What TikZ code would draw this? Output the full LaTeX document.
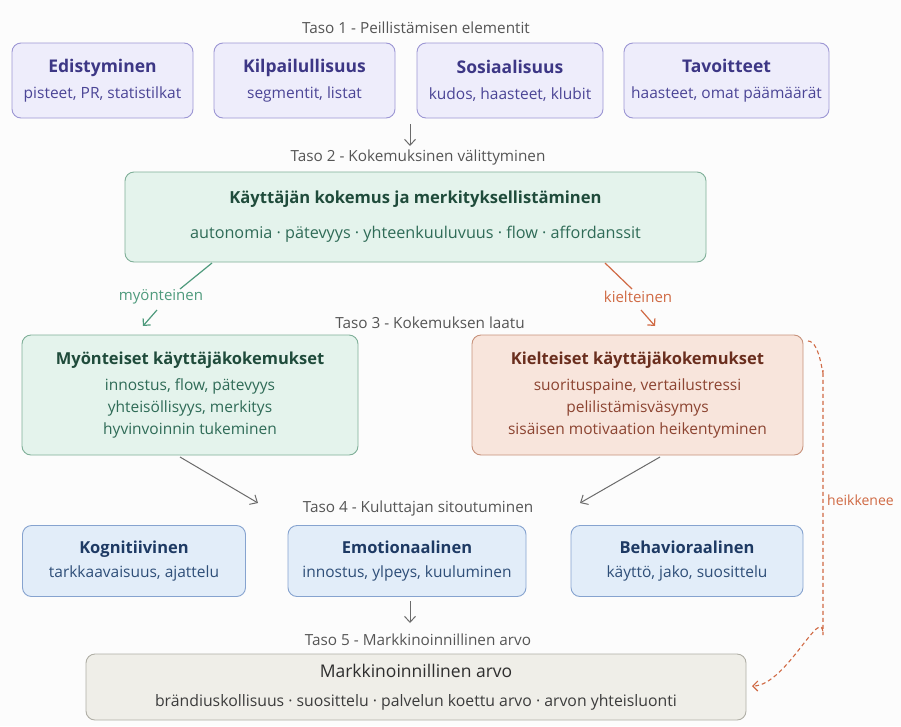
\documentclass[tikz,border=0pt]{standalone}
\usepackage{fontspec}
\setmainfont{Open Sans}
\usetikzlibrary{arrows.meta,calc}
\definecolor{bgc}{HTML}{FCFCFC}
\definecolor{pfill}{HTML}{EEEDFB}
\definecolor{pborder}{HTML}{9C96D4}
\definecolor{ptitle}{HTML}{3D3785}
\definecolor{psub}{HTML}{4B4596}
\definecolor{gfill}{HTML}{E4F3EC}
\definecolor{gborder}{HTML}{7FAF98}
\definecolor{gtitle}{HTML}{1F4B3B}
\definecolor{gsub}{HTML}{2F6B57}
\definecolor{rfill}{HTML}{F8E5DC}
\definecolor{rborder}{HTML}{C7917B}
\definecolor{rtitle}{HTML}{6A2E1E}
\definecolor{rsub}{HTML}{8C4431}
\definecolor{bfill}{HTML}{E2EDF9}
\definecolor{bborder}{HTML}{86A3CF}
\definecolor{btitle}{HTML}{1E3A64}
\definecolor{bsub}{HTML}{2E4E78}
\definecolor{efill}{HTML}{EFEEE8}
\definecolor{eborder}{HTML}{AFAEA5}
\definecolor{etitle}{HTML}{2E2E2E}
\definecolor{esub}{HTML}{3C3C3C}
\definecolor{lvl}{HTML}{555555}
\definecolor{arr}{HTML}{6B6B6B}
\definecolor{glink}{HTML}{4E9A7C}
\definecolor{olink}{HTML}{D06A44}
\newcommand\boxtitle[2][17.5]{{\fontsize{#1}{20}\selectfont\bfseries #2}}
\tikzset{
  box/.style={draw, rounded corners=9pt, line width=0.9pt, align=center, inner sep=0pt,
    font=\fontsize{15.5}{22}\selectfont},
  pbox/.style={box, draw=pborder, fill=pfill, text=psub, minimum height=75},
  gbox/.style={box, draw=gborder, fill=gfill, text=gsub},
  rbox/.style={box, draw=rborder, fill=rfill, text=rsub},
  bbox/.style={box, draw=bborder, fill=bfill, text=bsub, minimum height=71},
  ebox/.style={box, draw=eborder, fill=efill, text=esub},
  level/.style={text=lvl, font=\fontsize{15.3}{17}\selectfont, inner sep=1pt},
  grayarrow/.style={draw=arr, line width=1pt, -{Straight Barb[length=6pt,width=11pt,line width=1pt]}},
  linklabel/.style={font=\fontsize{15}{17}\selectfont, inner sep=1pt},
}
\begin{document}
\begin{tikzpicture}[x=1pt,y=-1pt]
\useasboundingbox[fill=bgc] (0,0) rectangle (901,726);

% Level 1
\node[level] (lvl1) at (416,28) {Taso 1 - Peillistämisen elementit};
\node[pbox, minimum width=181] (b1a) at (102.5,80.5) {\textcolor{ptitle}{\boxtitle{Edistyminen}}\\[4pt]pisteet, PR, statistilkat};
\node[pbox, minimum width=181] (b1b) at (304.5,80.5) {\textcolor{ptitle}{\boxtitle{Kilpailullisuus}}\\[4pt]segmentit, listat};
\node[pbox, minimum width=186] (b1c) at (510,80.5) {\textcolor{ptitle}{\boxtitle{Sosiaalisuus}}\\[4pt]kudos, haasteet, klubit};
\node[pbox, minimum width=205] (b1d) at (726.5,80.5) {\textcolor{ptitle}{\boxtitle{Tavoitteet}}\\[4pt]haasteet, omat päämäärät};

\coordinate (a1s) at (410,124);
\coordinate (a1e) at (410,146);
\draw[grayarrow] (a1s) -- (a1e);

% Level 2
\node[level] (lvl2) at (418,158) {Taso 2 - Kokemuksinen välittyminen};
\node[gbox, minimum width=581, minimum height=90, font=\fontsize{16.2}{22}\selectfont] (b2) at (415.5,217) {\textcolor{gtitle}{\boxtitle[16.6]{Käyttäjän kokemus ja merkityksellistäminen}}\\[13pt]autonomia · pätevyys · yhteenkuuluvuus · flow · affordanssit};

% branch labels
\node[linklabel, text=glink] (pos) at (161,297) {myönteinen};
\node[linklabel, text=olink] (neg) at (638,297) {kielteinen};
\coordinate (g1) at (212,263);
\coordinate (g2) at (180,289);
\coordinate (g3) at (157,310);
\coordinate (g4) at (143,326);
\coordinate (o1) at (605,263);
\coordinate (o2) at (632,289);
\coordinate (o3) at (641,310);
\coordinate (o4) at (655,326);
\draw[glink, line width=1.2pt] (g1) -- (g2);
\draw[glink, line width=1.2pt, -{Straight Barb[length=5pt,width=10pt,line width=1.2pt]}] (g3) -- (g4);
\draw[olink, line width=1.2pt] (o1) -- (o2);
\draw[olink, line width=1.2pt, -{Straight Barb[length=5pt,width=10pt,line width=1.2pt]}] (o3) -- (o4);

% Level 3
\node[level] (lvl3) at (430,323) {Taso 3 - Kokemuksen laatu};
\node[gbox, minimum width=336, minimum height=120] (b3a) at (190,395) {\textcolor{gtitle}{\boxtitle[16.5]{Myönteiset käyttäjäkokemukset}}\\[4pt]innostus, flow, pätevyys\\yhteisöllisyys, merkitys\\hyvinvoinnin tukeminen};
\node[rbox, minimum width=331, minimum height=120] (b3b) at (637.5,395) {\textcolor{rtitle}{\boxtitle[16.5]{Kielteiset käyttäjäkokemukset}}\\[4pt]suorituspaine, vertailustressi\\pelilistämisväsymys\\sisäisen motivaation heikentyminen};

\coordinate (p1) at (180,457);
\coordinate (p2) at (258,503);
\coordinate (n1) at (660,457);
\coordinate (n2) at (580,503);
\draw[grayarrow] (p1) -- (p2);
\draw[grayarrow] (n1) -- (n2);

% Level 4
\node[level] (lvl4) at (418,509) {Taso 4 - Kuluttajan sitoutuminen};
\node[bbox, minimum width=223] (b4a) at (134,561) {\textcolor{btitle}{\boxtitle[16.5]{Kognitiivinen}}\\[2pt]tarkkaavaisuus, ajattelu};
\node[bbox, minimum width=238] (b4b) at (407,561) {\textcolor{btitle}{\boxtitle[16.5]{Emotionaalinen}}\\[2pt]innostus, ylpeys, kuuluminen};
\node[bbox, minimum width=232] (b4c) at (687,561) {\textcolor{btitle}{\boxtitle[16.5]{Behavioraalinen}}\\[2pt]käyttö, jako, suosittelu};

\coordinate (a4s) at (410,601);
\coordinate (a4e) at (410,623);
\draw[grayarrow] (a4s) -- (a4e);

% Level 5
\node[level] (lvl5) at (418,640) {Taso 5 - Markkinoinnillinen arvo};
\node[ebox, minimum width=660, minimum height=66, font=\fontsize{15.8}{22}\selectfont] (b5) at (416,687) {\textcolor{etitle}{\boxtitle{\mdseries Markkinoinnillinen arvo}}\\[7pt]brändiuskollisuus · suosittelu · palvelun koettu arvo · arvon yhteisluonti};

% dashed feedback
\coordinate (d0) at (808,341);
\coordinate (d1) at (823,370);
\coordinate (d2) at (823,635);
\coordinate (d3) at (752,686);
\draw[olink, line width=1.1pt, dash pattern=on 4pt off 3pt, -{Straight Barb[length=5pt,width=10pt,line width=1.1pt]}]
  (d0) to[out=0,in=-90] (d1) -- (d2) to[out=90,in=0] (d3);
\node[linklabel, text=olink, anchor=west, font=\fontsize{14}{16}\selectfont] (weak) at (826,500) {heikkenee};
\end{tikzpicture}
\end{document}
